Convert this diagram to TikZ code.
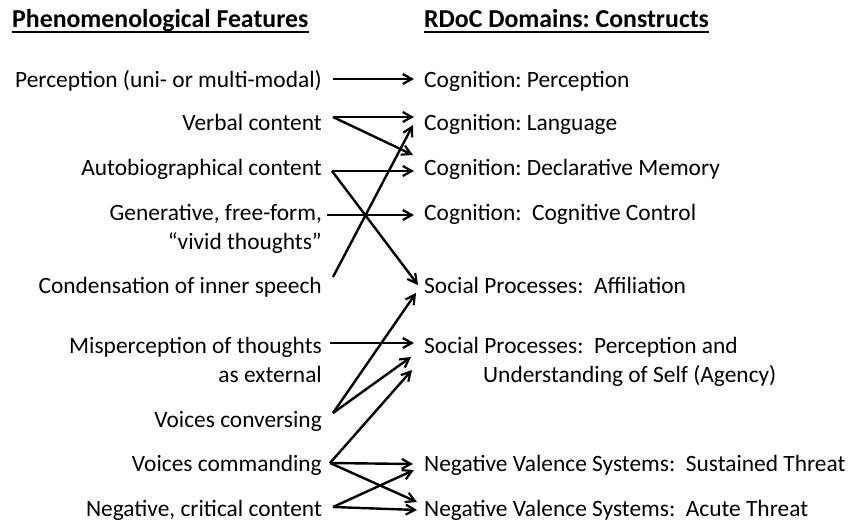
\documentclass[tikz,border=0pt]{standalone}
\usepackage{fontspec}
\setmainfont{Carlito}
\usetikzlibrary{arrows.meta}
\frenchspacing
\begin{document}
\begin{tikzpicture}[x=1pt,y=-1pt,
  lab/.style={inner sep=0pt,font=\fontsize{23.4}{23.4}\selectfont},
  lft/.style={lab,anchor=base east},
  rgt/.style={lab,anchor=base west},
  hd/.style={inner sep=0pt,font=\fontsize{25.8}{25.8}\selectfont\bfseries,anchor=base west},
  conn/.style={line width=2.4pt,-{Straight Barb[length=9pt,width=10pt,line width=2.2pt]}}]
\useasboundingbox (0,0) rectangle (851,521);
% headings
\node[hd] (h1) at (12,28) {Phenomenological Features};
\node[hd] (h2) at (424,28) {RDoC Domains: Constructs};
\draw[line width=1.4pt] ([yshift=-4pt]h1.base west) -- ([yshift=-4pt]h1.base east);
\draw[line width=1.4pt] ([yshift=-4pt]h2.base west) -- ([yshift=-4pt]h2.base east);
% left column
\node[lft] (L1) at (322,87.5) {Perception (uni- or multi-modal)};
\node[lft] (L2) at (322,130.5) {Verbal content};
\node[lft] (L3) at (322,175.5) {Autobiographical content};
\node[lft] (L4) at (322,220.5) {Generative, free-form,};
\node[lft] (L4b) at (322,249.5) {“vivid thoughts”};
\node[lft] (L5) at (322,293.5) {Condensation of inner speech};
\node[lft] (L6) at (322,353.5) {Misperception of thoughts};
\node[lft] (L6b) at (322,382.5) {as external};
\node[lft] (L7) at (322,427.5) {Voices conversing};
\node[lft] (L8) at (322,471.5) {Voices commanding};
\node[lft] (L9) at (322,516) {Negative, critical content};
% right column
\node[rgt] (R1) at (424,87.5) {Cognition: Perception};
\node[rgt] (R2) at (424,130.5) {Cognition: Language};
\node[rgt] (R3) at (424,175.5) {Cognition: Declarative Memory};
\node[rgt] (R4) at (424,220.5) {Cognition:\ \ Cognitive Control};
\node[rgt] (R5) at (424,293.5) {Social Processes:\ \ Affiliation};
\node[rgt] (R6) at (424,353.5) {Social Processes:\ \ Perception and};
\node[rgt] (R6b) at (483,382.5) {Understanding of Self (Agency)};
\node[rgt] (R7) at (424,471.5) {Negative Valence Systems:\ \ Sustained Threat};
\node[rgt] (R8) at (424,516) {Negative Valence Systems:\ \ Acute Threat};
% ports
\coordinate (s1) at (333,79);
\coordinate (s2) at (333,117);
\coordinate (s3) at (332,171);
\coordinate (s4) at (327,215);
\coordinate (s5) at (333,277);
\coordinate (s6) at (330,343);
\coordinate (s7) at (333,413);
\coordinate (s8) at (330,463);
\coordinate (s9) at (333,507);
\coordinate (e1) at (414,79);
\coordinate (e2a) at (414,117);
\coordinate (e2b) at (413,125);
\coordinate (e3a) at (413,155);
\coordinate (e3b) at (414,171);
\coordinate (e4) at (414,215);
\coordinate (e5a) at (418,285);
\coordinate (e5b) at (416,293);
\coordinate (e6a) at (414,343);
\coordinate (e6b) at (411,357);
\coordinate (e6c) at (412,370);
\coordinate (e7a) at (413,464);
\coordinate (e7b) at (414,470);
\coordinate (e8a) at (417,502);
\coordinate (e8b) at (417,510);
% connectors
\draw[conn] (s1) -- (e1);
\draw[conn] (s2) -- (e2a);
\draw[conn] (s2) -- (e3a);
\draw[conn] (s3) -- (e3b);
\draw[conn] (s3) -- (e5a);
\draw[conn] (s4) -- (e4);
\draw[conn] (s5) -- (e2b);
\draw[conn] (s6) -- (e6a);
\draw[conn] (s7) -- (e5b);
\draw[conn] (s7) -- (e6b);
\draw[conn] (s8) -- (e6c);
\draw[conn] (s8) -- (e7a);
\draw[conn] (s8) -- (e8a);
\draw[conn] (s9) -- (e7b);
\draw[conn] (s9) -- (e8b);
\end{tikzpicture}
\end{document}
